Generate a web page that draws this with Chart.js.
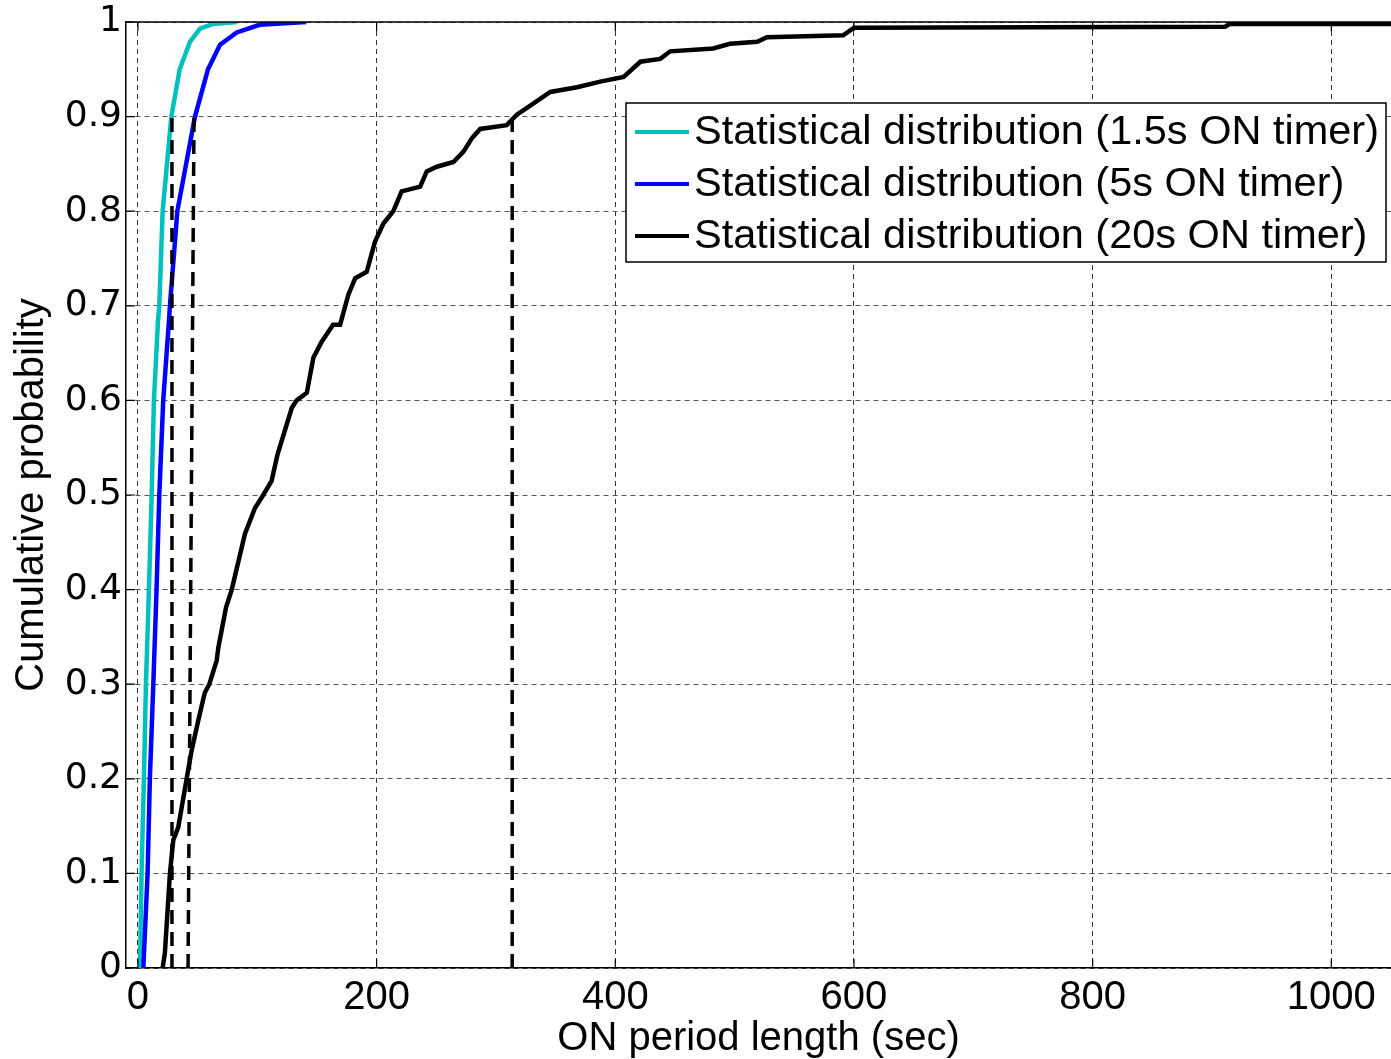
<!DOCTYPE html>
<html>
<head>
<meta charset="utf-8">
<script src="https://cdn.jsdelivr.net/npm/chart.js@4.4.1/dist/chart.umd.min.js"></script>
<style>
  html, body { margin: 0; padding: 0; background: #fff; }
</style>
</head>
<body>
<canvas id="chart1" width="1391" height="1059"></canvas>
<script>
  // axis ticks
  const xTicks = [0, 200, 400, 600, 800, 1000];
  const yTicks = [0, 0.1, 0.2, 0.3, 0.4, 0.5, 0.6, 0.7, 0.8, 0.9, 1];

  // 1.5s ON timer
  const cyanX = [1.7, 3, 5, 6.7, 9.2, 11.5, 13.4, 16.8, 17.9, 20.7, 28, 35, 43.6, 52, 63, 83];
  const cyanY = [0, 0.1, 0.2, 0.3, 0.4, 0.5, 0.6, 0.684, 0.7, 0.8, 0.9, 0.95, 0.979, 0.993, 0.998, 1];

  // 5s ON timer
  const blueX = [4.5, 8.1, 10, 12.9, 15.6, 17.9, 21.2, 26, 26.8, 33, 47.8, 58.7, 68.8, 82.8, 102, 141];
  const blueY = [0, 0.1, 0.2, 0.3, 0.4, 0.5, 0.6, 0.684, 0.7, 0.8, 0.9, 0.95, 0.976, 0.989, 0.997, 1];

  // 20s ON timer
  const blackX = [20.7, 22.6, 26.8, 29.6, 33.8, 40.8, 45, 50.6, 56, 59.8, 66, 67.4, 73.8, 78.6, 89.7, 98, 105, 112,
    117, 128.9, 133, 141.5, 147, 154, 163.5, 169.4, 176.4, 182, 191.7, 198.7, 205.7, 214, 221, 236.5, 242, 250.5,
    264.4, 272.8, 279.8, 286.8, 309, 317.5, 334, 345.5, 368, 387.4, 407, 421, 437.7, 446, 482, 496, 519, 527, 591,
    600, 911, 915, 1050];
  const blackY = [0, 0.016, 0.1, 0.135, 0.149, 0.2, 0.23, 0.262, 0.291, 0.3, 0.325, 0.339, 0.381, 0.4, 0.459, 0.486, 0.5, 0.515,
    0.543, 0.592, 0.6, 0.608, 0.645, 0.662, 0.68, 0.68, 0.712, 0.729, 0.736, 0.768, 0.787, 0.8, 0.821, 0.826, 0.842, 0.847,
    0.852, 0.863, 0.877, 0.887, 0.891, 0.902, 0.916, 0.926, 0.931, 0.937, 0.942, 0.958, 0.961, 0.969, 0.972, 0.977, 0.979, 0.984, 0.986,
    0.994, 0.995, 0.998, 0.998];

  // 90th percentile markers
  const markerX = [[28.5, 28.5], [42, 47], [313.6, 313.6]];
  const markerY = [0, 0.9];

  const labels = [
    'Statistical distribution (1.5s ON timer)',
    'Statistical distribution (5s ON timer)',
    'Statistical distribution (20s ON timer)'
  ];

  const pts = (xs, ys) => xs.map((x, i) => ({ x: x, y: ys[i] }));

  Chart.defaults.font.family = '"Liberation Sans", Arial, Helvetica, sans-serif';
  Chart.defaults.color = '#000';

  const framePlugin = {
    id: 'frame',
    afterDraw(chart) {
      const ctx = chart.ctx;
      const a = chart.chartArea;
      const xs = chart.scales.x, ys = chart.scales.y;
      ctx.save();
      ctx.strokeStyle = '#000';
      ctx.lineWidth = 1.5;
      ctx.beginPath();
      ctx.moveTo(a.left, a.top);
      ctx.lineTo(a.right, a.top);
      ctx.stroke();
      // inward ticks
      ctx.lineWidth = 1.2;
      ctx.beginPath();
      ys.ticks.forEach(t => {
        const py = ys.getPixelForValue(t.value);
        ctx.moveTo(a.left, py); ctx.lineTo(a.left + 9, py);
      });
      xs.ticks.forEach(t => {
        const px = xs.getPixelForValue(t.value);
        ctx.moveTo(px, a.bottom); ctx.lineTo(px, a.bottom - 9);
        ctx.moveTo(px, a.top); ctx.lineTo(px, a.top + 9);
      });
      ctx.stroke();

      // legend box
      const bx = 626, by = 103, bw = 760, bh = 159;
      ctx.fillStyle = '#fff';
      ctx.fillRect(bx, by, bw, bh);
      ctx.lineWidth = 1.5;
      ctx.strokeRect(bx, by, bw, bh);
      const rows = [132, 184, 236];
      ctx.font = '41.5px "Liberation Sans", Arial, sans-serif';
      ctx.textBaseline = 'middle';
      ctx.textAlign = 'left';
      chart.data.datasets.slice(0, 3).forEach((ds, i) => {
        ctx.strokeStyle = ds.borderColor;
        ctx.lineWidth = 4;
        ctx.beginPath();
        ctx.moveTo(635, rows[i]);
        ctx.lineTo(689, rows[i]);
        ctx.stroke();
        ctx.fillStyle = '#000';
        ctx.fillText(ds.label, 694, rows[i] + 1);
      });
      ctx.restore();
    }
  };

  const curve = (label, color, data, order) => ({
    label: label, data: data, borderColor: color, backgroundColor: color,
    borderWidth: 4.5, pointRadius: 0, tension: 0, fill: false, order: order
  });
  const marker = (xs) => ({
    label: '', data: pts(xs, markerY), borderColor: '#000', borderWidth: 3.5,
    borderDash: [14, 8], pointRadius: 0, tension: 0, fill: false, order: 0
  });

  const ctx1 = document.getElementById('chart1').getContext('2d');
  const chart1 = new Chart(ctx1, {
    type: 'line',
    data: {
      datasets: [
        curve(labels[0], '#00BFBF', pts(cyanX, cyanY), 3),
        curve(labels[1], '#0000FF', pts(blueX, blueY), 2),
        curve(labels[2], '#000000', pts(blackX, blackY), 1),
        marker(markerX[0]),
        marker(markerX[1]),
        marker(markerX[2])
      ]
    },
    options: {
      responsive: false,
      animation: false,
      layout: { padding: { top: 0, left: 0, right: 0, bottom: 0 } },
      plugins: { legend: { display: false }, tooltip: { enabled: false } },
      scales: {
        x: {
          type: 'linear', min: -10, max: 1050,
          afterBuildTicks: s => { s.ticks = xTicks.map(v => ({ value: v })); },
          afterFit: s => { s.height = 91; },
          ticks: { font: { size: 40 }, padding: 6, maxRotation: 0, autoSkip: false, color: '#000',
                   callback: v => String(v) },
          grid: { color: '#333', lineWidth: 1, drawTicks: false },
          border: { display: true, color: '#000', width: 1.5, dash: [5, 4] },
          title: { display: true, text: 'ON period length (sec)', font: { size: 40, lineHeight: 1.0 },
                   color: '#000', padding: { top: 0, bottom: 0 } }
        },
        y: {
          type: 'linear', min: 0, max: 1,
          afterBuildTicks: s => { s.ticks = yTicks.map(v => ({ value: v })); },
          afterFit: s => { s.width = 126; },
          ticks: { font: { size: 36, lineHeight: 1.0, family: '"DejaVu Sans", sans-serif' }, padding: 4,
                   color: '#000', callback: v => String(v) },
          grid: { color: '#555', lineWidth: 1, drawTicks: false },
          border: { display: true, color: '#000', width: 1.5, dash: [5, 4] },
          title: { display: true, text: 'Cumulative probability', font: { size: 40, lineHeight: 1.0 },
                   color: '#000', padding: { top: 12, bottom: 0 } }
        }
      }
    },
    plugins: [framePlugin]
  });
</script>
</body>
</html>
